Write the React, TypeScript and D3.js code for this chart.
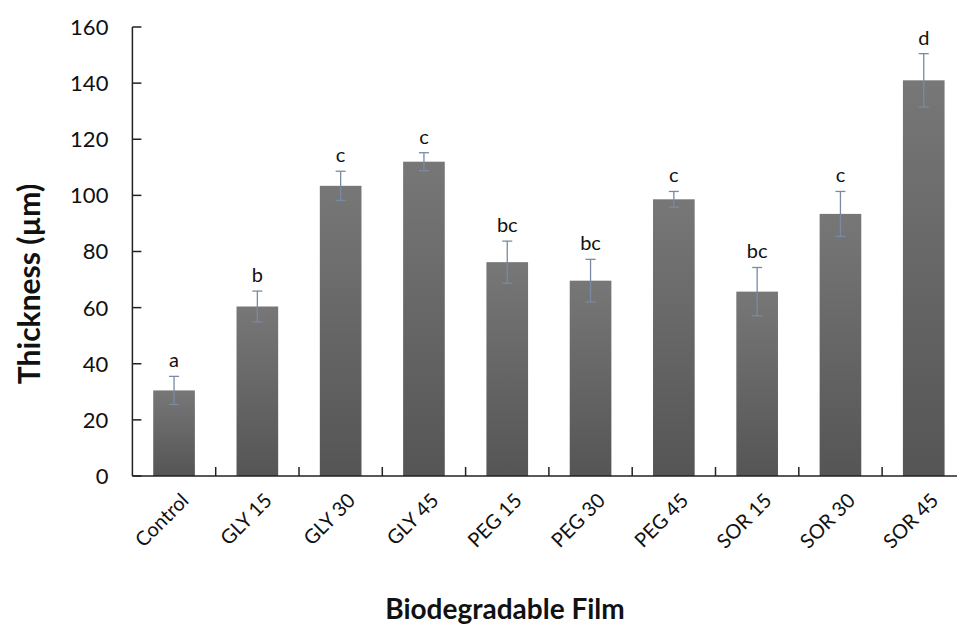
import React from "react";
import * as d3 from "d3";

const categories = ["Control", "GLY 15", "GLY 30", "GLY 45", "PEG 15", "PEG 30", "PEG 45", "SOR 15", "SOR 30", "SOR 45"];
const values = [30.5, 60.4, 103.4, 112, 76.2, 69.6, 98.6, 65.7, 93.4, 141];
const errors = [5, 5.5, 5.2, 3.2, 7.5, 7.6, 2.8, 8.6, 8, 9.5];
const letters = ["a", "b", "c", "c", "bc", "bc", "c", "bc", "c", "d"];
const yTicks = [0, 20, 40, 60, 80, 100, 120, 140, 160];

const W = 957;
const H = 626;
const FONT = "Lato, 'Open Sans', sans-serif";

export default function App() {
  const x0 = 132.4;
  const x1 = x0 + 83.3 * categories.length;
  const x = d3.scaleBand<string>().domain(categories).range([x0, x1]).paddingInner(0.5).paddingOuter(0.25);
  const xb = d3.scaleBand<string>().domain(categories).range([x0, x1]);
  const y = d3.scaleLinear().domain([0, 160]).range([476, 27]);

  return (
    <svg width={W} height={H} style={{ display: "block", position: "absolute", left: 0, top: 0 }} fontFamily={FONT}>
      <defs>
        <linearGradient id="barGrad" x1="0" y1="0" x2="0" y2="1">
          <stop offset="0%" stopColor="#777777" />
          <stop offset="100%" stopColor="#555555" />
        </linearGradient>
      </defs>
      <rect width={W} height={H} fill="#fff" />
      {categories.map((c, i) => (
        <rect key={c} x={x(c)} y={y(values[i])} width={x.bandwidth()} height={y(0) - y(values[i])} fill="url(#barGrad)" />
      ))}
      {categories.map((c, i) => {
        const cx = (x(c) as number) + x.bandwidth() / 2;
        const top = y(values[i] + errors[i]);
        const bot = y(values[i] - errors[i]);
        return (
          <g key={c} stroke="#7a8aa3" strokeWidth={1.3}>
            <line x1={cx} x2={cx} y1={top} y2={bot} />
            <line x1={cx - 5} x2={cx + 5} y1={top} y2={top} />
            <line x1={cx - 5} x2={cx + 5} y1={bot} y2={bot} />
          </g>
        );
      })}
      {categories.map((c, i) => {
        const cx = (x(c) as number) + x.bandwidth() / 2;
        return (
          <text key={c} x={cx} y={y(values[i] + errors[i]) - 9} textAnchor="middle" fontSize={20} fill="#111">
            {letters[i]}
          </text>
        );
      })}
      <line x1={x0} x2={x0} y1={y(160)} y2={y(0)} stroke="#222" strokeWidth={1.5} />
      {yTicks.map((t) => (
        <g key={t}>
          <line x1={x0} x2={x0 + 9} y1={y(t)} y2={y(t)} stroke="#222" strokeWidth={1.5} />
          <text x={x0 - 24} y={y(t)} dy="0.36em" textAnchor="end" fontSize={22} fill="#111">
            {t}
          </text>
        </g>
      ))}
      <line x1={x0} x2={W} y1={y(0)} y2={y(0)} stroke="#222" strokeWidth={1.5} />
      {categories.slice(1).map((c) => (
        <line key={c} x1={xb(c)} x2={xb(c)} y1={y(0)} y2={y(0) - 9} stroke="#222" strokeWidth={1.5} />
      ))}
      {categories.map((c) => {
        const cx = (xb(c) as number) + xb.bandwidth() / 2;
        const ax = cx + 6;
        const ay = y(0) + 16;
        return (
          <text key={c} x={ax} y={ay} textAnchor="end" fontSize={20} fill="#111" transform={`rotate(-45, ${ax}, ${ay})`} dy="0.7em">
            {c}
          </text>
        );
      })}
      <text x={505} y={619} textAnchor="middle" fontSize={28} fontWeight="bold" fill="#111">
        Biodegradable Film
      </text>
      <text x={29} y={284} textAnchor="middle" fontSize={30} fontWeight="bold" fill="#111" transform="rotate(-90, 29, 284)" dy="0.35em">
        Thickness (µm)
      </text>
    </svg>
  );
}
